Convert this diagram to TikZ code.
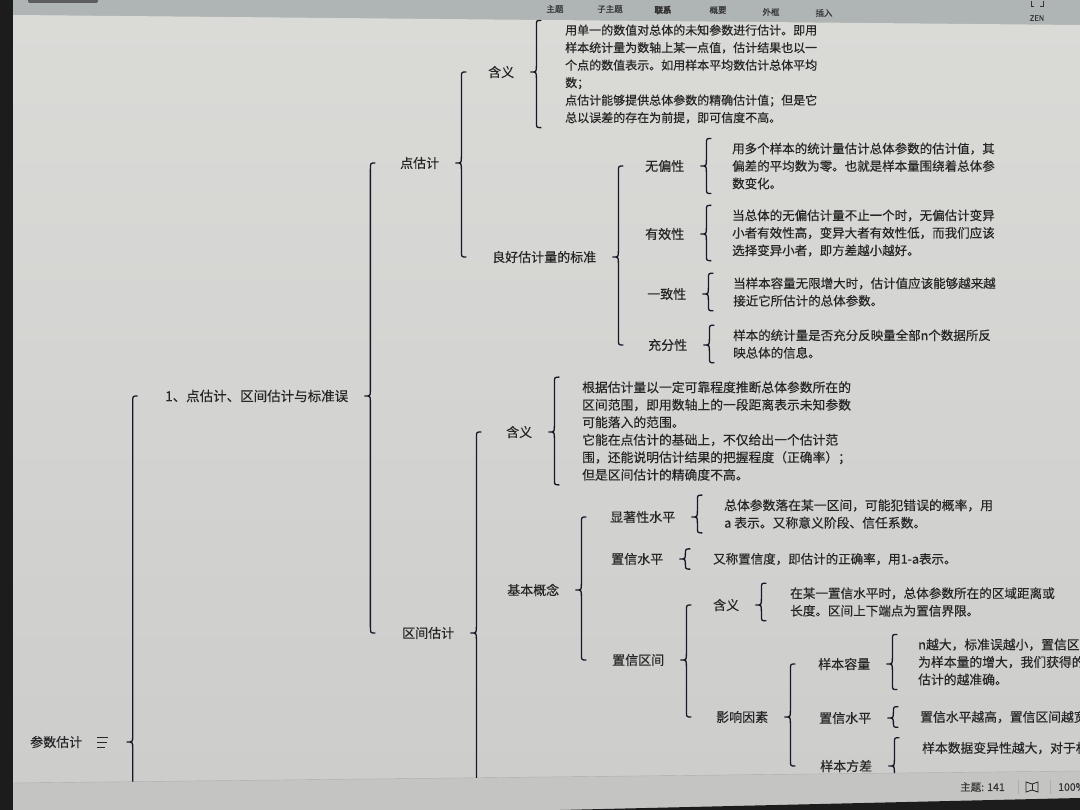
\documentclass[tikz,border=0pt]{standalone}
\usepackage{fontspec}
\setmainfont{Noto Sans CJK SC}[FakeBold=0.35]
\usetikzlibrary{calc}

\definecolor{screen}{HTML}{C4C5C2}
\definecolor{toolbar}{HTML}{AEB5B4}
\definecolor{canvastop}{HTML}{DADBD7}
\definecolor{canvasbot}{HTML}{CDCECC}
\definecolor{bezel}{HTML}{1C1C1C}
\definecolor{ink}{HTML}{262626}
\definecolor{brcink}{HTML}{17172A}
\definecolor{toolink}{HTML}{353535}
\definecolor{edge}{HTML}{ACAEAC}

% curly brace: tip at the parent, ends at the first and last child
\newcommand{\mbrace}[3]{%
  \draw[brc] let \p1 = (#1.east), \p2 = (#2), \p3 = (#3) in
    (\x1 + 27pt, \y2) .. controls (\x1 + 22pt, \y2) .. (\x1 + 22pt, \y2 - 6pt)
    -- (\x1 + 22pt, \y1 + 6pt) .. controls (\x1 + 22pt, \y1) .. (\x1 + 16pt, \y1)
    .. controls (\x1 + 22pt, \y1) .. (\x1 + 22pt, \y1 - 6pt)
    -- (\x1 + 22pt, \y3 + 6pt) .. controls (\x1 + 22pt, \y3) .. (\x1 + 27pt, \y3);}

\begin{document}
\begin{tikzpicture}[x = 1pt, y = -1pt,
  lbl/.style = {anchor = west, inner sep = 0pt, text = ink, font = \fontsize{#1}{15}\selectfont},
  lbl/.default = 13,
  txt/.style = {anchor = west, inner xsep = 0pt, inner ysep = 4pt, align = left, text = ink, font = \fontsize{#1}{17.5}\selectfont},
  txt/.default = 12.5,
  brc/.style = {draw = brcink, line width = 1.3pt},
  tool/.style = {text = toolink, inner sep = 0pt, font = \fontsize{8.5}{10}\selectfont}]
\useasboundingbox (0,0) rectangle (1080,810);

% screen, toolbar and canvas
\fill[screen] (0,0) rectangle (1080,810);
\fill[toolbar] (0,0) -- (1080,0) -- (1080,26) -- (0,15) -- cycle;
\shade[top color = canvastop, bottom color = canvasbot] (13,15) -- (1080,25) -- (1080,771) -- (13,783) -- cycle;
\draw[edge] (13,783) -- (1080,771);
\fill[bezel] (0,0) rectangle (13,810);
\fill[bezel] (560,810) -- (1080,798) -- (1080,810) -- cycle;
\fill[toolink!80, rounded corners = 2pt] (28,-4) rectangle (98,3);

% toolbar
\node[tool] (ttopic) at (555,9) {主题};
\node[tool] (tsub) at (610,9) {子主题};
\node[tool, font = \fontsize{8.5}{10}\selectfont\bfseries] (tlink) at (663,10) {联系};
\node[tool] (tsum) at (718,10) {概要};
\node[tool] (tframe) at (771,12) {外框};
\node[tool] (tinsert) at (824,13) {插入};
\node[tool, font = \fontsize{7.5}{9}\selectfont] (zen) at (1037,18) {ZEN};
\draw[toolink, thick] (1031,1) -- (1031,6) -- (1034,6);
\draw[toolink, thick] (1043,1) -- (1043,6) -- (1040,6);

\begin{scope}
\clip (13,15) -- (1080,25) -- (1080,771) -- (13,783) -- cycle;

% labels
\node[lbl] (root) at (30,742) {参数估计};
\node[inner sep = 0pt, minimum width = 15pt, minimum height = 10pt] (rooticon) at (103,742) {};
\draw[ink, thick] (97,737) -- (108,737);
\draw[ink, thick] (97,742) -- (107,742);
\draw[ink, thick] (97,747) -- (105,747);
\coordinate (rootend) at (0,1090);
\node[lbl = 13.5] (l1) at (165,396) {1、点估计、区间估计与标准误};
\node[lbl] (pe) at (400,163) {点估计};
\node[lbl] (pmean) at (488,72) {含义};
\node[lbl] (good) at (492,257) {良好估计量的标准};
\node[lbl] (unb) at (645,166) {无偏性};
\node[lbl] (eff) at (645,234) {有效性};
\node[lbl] (cons) at (647,294) {一致性};
\node[lbl] (suff) at (648,345) {充分性};
\node[lbl] (ie) at (402,633) {区间估计};
\coordinate (ieend) at (0,834);
\node[lbl] (imean) at (506,432) {含义};
\node[lbl] (basic) at (507,590) {基本概念};
\node[lbl] (sig) at (610,517) {显著性水平};
\node[lbl] (conf) at (611,559) {置信水平};
\node[lbl] (ci) at (612,660) {置信区间};
\node[lbl] (cimean) at (713,605) {含义};
\node[lbl] (fac) at (716,717) {影响因素};
\node[lbl] (size) at (818,664) {样本容量};
\node[lbl] (clv) at (819,718) {置信水平};
\node[lbl] (var) at (820,766) {样本方差};
\coordinate (varend) at (0,800);

% texts
\node[txt = 12] (pmeantxt) at (565,74) {用单一的数值对总体的未知参数进行估计。即用\\样本统计量为数轴上某一点值，估计结果也以一\\个点的数值表示。如用样本平均数估计总体平均\\数；\\点估计能够提供总体参数的精确估计值；但是它\\总以误差的存在为前提，即可信度不高。};
\node[txt] (unbtxt) at (732,166) {用多个样本的统计量估计总体参数的估计值，其\\偏差的平均数为零。也就是样本量围绕着总体参\\数变化。};
\node[txt] (efftxt) at (732,233) {当总体的无偏估计量不止一个时，无偏估计变异\\小者有效性高，变异大者有效性低，而我们应该\\选择变异小者，即方差越小越好。};
\node[txt] (constxt) at (733,292) {当样本容量无限增大时，估计值应该能够越来越\\接近它所估计的总体参数。};
\node[txt] (sufftxt) at (733,344) {样本的统计量是否充分反映量全部n个数据所反\\映总体的信息。};
\node[txt = 12.8] (imeantxt) at (582,431) {根据估计量以一定可靠程度推断总体参数所在的\\区间范围，即用数轴上的一段距离表示未知参数\\可能落入的范围。\\它能在点估计的基础上，不仅给出一个估计范\\围，还能说明估计结果的把握程度（正确率）；\\但是区间估计的精确度不高。};
\node[txt = 12.8] (sigtxt) at (724,514) {总体参数落在某一区间，可能犯错误的概率，用\\a 表示。又称意义阶段、信任系数。};
\node[txt] (conftxt) at (713,559) {又称置信度，即估计的正确率，用1-a表示。};
\node[txt = 12.6] (cimeantxt) at (790,602) {在某一置信水平时，总体参数所在的区域距离或\\长度。区间上下端点为置信界限。};
\node[txt = 12.8] (sizetxt) at (918,662) {n越大，标准误越小，置信区间\\为样本量的增大，我们获得的\\估计的越准确。};
\node[txt = 12.8] (clvtxt) at (920,717) {置信水平越高，置信区间越宽};
\node[txt = 12.8] (vartxt) at (922,748) {样本数据变异性越大，对于相};

% braces
\mbrace{rooticon}{l1.west}{rootend}
\mbrace{l1}{pe.west}{ie.west}
\mbrace{pe}{pmean.west}{good.west}
\mbrace{pmean}{pmeantxt.north}{pmeantxt.south}
\mbrace{good}{unb.west}{suff.west}
\mbrace{unb}{unbtxt.north}{unbtxt.south}
\mbrace{eff}{efftxt.north}{efftxt.south}
\mbrace{cons}{constxt.north}{constxt.south}
\mbrace{suff}{sufftxt.north}{sufftxt.south}
\mbrace{ie}{imean.west}{ieend}
\mbrace{imean}{imeantxt.north}{imeantxt.south}
\mbrace{basic}{sig.west}{ci.west}
\mbrace{sig}{sigtxt.north}{sigtxt.south}
\mbrace{conf}{conftxt.north}{conftxt.south}
\mbrace{ci}{cimean.west}{fac.west}
\mbrace{cimean}{cimeantxt.north}{cimeantxt.south}
\mbrace{fac}{size.west}{var.west}
\mbrace{size}{sizetxt.north}{sizetxt.south}
\mbrace{clv}{clvtxt.north}{clvtxt.south}
\mbrace{var}{vartxt.north}{varend}
\end{scope}

% status bar
\node[tool, anchor = west, font = \fontsize{10.5}{12}\selectfont] (topics) at (960,787) {主题: 141};
\draw[edge, thick] (1018,780) -- (1018,794);
\draw[ink, thick] (1026,782) -- (1026,792) -- (1032,790) -- (1038,792) -- (1038,782) -- (1032,784) -- cycle;
\draw[ink, thick] (1032,784) -- (1032,790);
\draw[edge, thick] (1050,780) -- (1050,794);
\node[tool, anchor = west, font = \fontsize{10.5}{12}\selectfont] (zoomlvl) at (1058,787) {100\%};
\end{tikzpicture}
\end{document}
